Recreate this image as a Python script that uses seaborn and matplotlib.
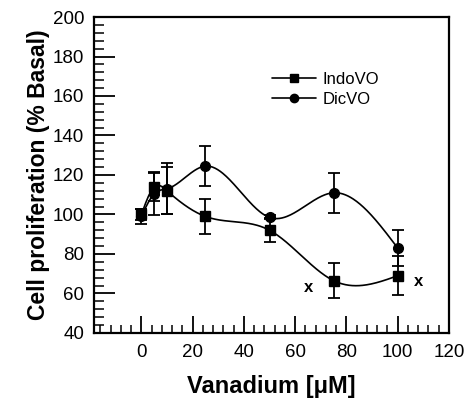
import matplotlib
matplotlib.use("Agg")
import matplotlib.pyplot as plt
import numpy as np
import pandas as pd
import seaborn as sns
from matplotlib.ticker import MultipleLocator

# values
dose = [0, 5, 10, 25, 50, 75, 100]
indo_mean = [100, 114, 112, 99, 92, 66.5, 69]
indo_err = [3, 7, 12, 9, 6, 9, 10]
dic_mean = [99, 110.5, 113, 124.5, 98.5, 111, 83]
dic_err = [4, 11, 13, 10, 1, 10, 9]
x_marks_x = [65, 108]
x_marks_y = [63, 66]

sns.set_theme(style="ticks")
plt.rcParams['font.family'] = ['Liberation Sans', 'DejaVu Sans']
plt.rcParams['text.color'] = 'black'
plt.rcParams['axes.labelcolor'] = 'black'

df = pd.DataFrame({
    'dose': dose * 2,
    'value': indo_mean + dic_mean,
    'err': indo_err + dic_err,
    'group': ['IndoVO'] * len(dose) + ['DicVO'] * len(dose),
})


def natural_spline(x, y, n=300):
    # smooth connecting curve (as in the original figure), natural cubic spline
    x = np.asarray(x, float)
    y = np.asarray(y, float)
    k = len(x)
    h = np.diff(x)
    A = np.zeros((k, k))
    b = np.zeros(k)
    A[0, 0] = A[-1, -1] = 1
    for i in range(1, k - 1):
        A[i, i - 1] = h[i - 1]
        A[i, i] = 2 * (h[i - 1] + h[i])
        A[i, i + 1] = h[i]
        b[i] = 6 * ((y[i + 1] - y[i]) / h[i] - (y[i] - y[i - 1]) / h[i - 1])
    M = np.linalg.solve(A, b)
    xs = np.linspace(x[0], x[-1], n)
    idx = np.clip(np.searchsorted(x, xs) - 1, 0, k - 2)
    x0, x1 = x[idx], x[idx + 1]
    hh = x1 - x0
    ys = (M[idx] * (x1 - xs) ** 3 / (6 * hh) + M[idx + 1] * (xs - x0) ** 3 / (6 * hh)
          + (y[idx] / hh - M[idx] * hh / 6) * (x1 - xs)
          + (y[idx + 1] / hh - M[idx + 1] * hh / 6) * (xs - x0))
    return xs, ys


fig = plt.figure(figsize=(4.66, 4.01), dpi=100)
ax = fig.add_axes([0.2017, 0.1696, 0.7618, 0.788])

markers = {'IndoVO': 's', 'DicVO': 'o'}
for name, g in df.groupby('group', sort=False):
    xs, ys = natural_spline(g['dose'], g['value'])
    sns.lineplot(x=xs, y=ys, ax=ax, color='black', lw=1.2, sort=False)
    ax.errorbar(g['dose'], g['value'], yerr=g['err'], fmt='none', ecolor='black',
                elinewidth=1.3, capsize=4, capthick=1.3)
    ax.plot(g['dose'], g['value'], ls='none', marker=markers[name], color='black',
            ms=7.5 if name == 'IndoVO' else 7)
    ax.plot([], [], color='black', lw=1.2, marker=markers[name], ms=6, label=name)

for xm, ym in zip(x_marks_x, x_marks_y):
    ax.text(xm, ym, 'x', ha='center', va='center', fontsize=12, fontweight='bold')

ax.set_xlim(-18.5, 120)
ax.set_ylim(40, 200)
ax.xaxis.set_major_locator(MultipleLocator(20))
ax.xaxis.set_minor_locator(MultipleLocator(4))
ax.yaxis.set_major_locator(MultipleLocator(20))
ax.yaxis.set_minor_locator(MultipleLocator(4))
ax.tick_params(which='major', direction='in', length=12, width=1.3, labelsize=13.5,
               colors='black', pad=8)
ax.tick_params(axis='y', which='major', length=15, pad=7)
ax.tick_params(which='minor', direction='in', length=6, width=1.1, colors='black')
ax.tick_params(axis='y', which='minor', length=7)
for s in ax.spines.values():
    s.set_linewidth(1.6)
    s.set_color('black')

ax.set_xlabel('Vanadium [μM]', fontsize=17, fontweight='bold', labelpad=10)
ax.set_ylabel('Cell proliferation (% Basal)', fontsize=16.5, fontweight='bold', labelpad=2)

ax.legend(loc='upper left', bbox_to_anchor=(0.46, 0.875), frameon=False, fontsize=12,
          handlelength=2.6, handletextpad=0.4, labelspacing=0.3)

fig.savefig('out.png', dpi=100)
